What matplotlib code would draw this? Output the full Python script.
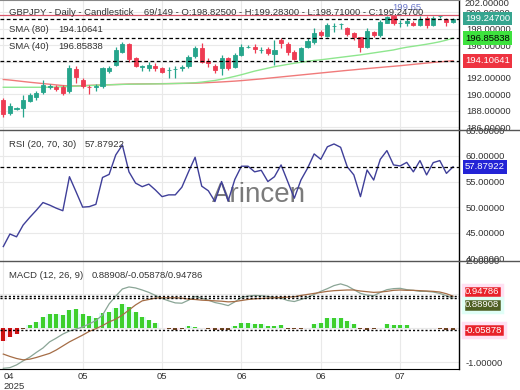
import matplotlib
matplotlib.use("Agg")
import matplotlib.pyplot as plt
import numpy as np
from matplotlib.lines import Line2D

plt.rcParams['font.family'] = ['Liberation Sans', 'DejaVu Sans']

# ---- data ----
opens = [189.3, 187.7, 188.25, 188.4, 189.25, 189.7, 190.33, 190.95, 190.87, 190.87,
         190.45, 193.06, 191.76, 190.9, 190.95, 191.0, 192.9, 193.6, 195.2, 196.2,
         194.4, 193.38, 193.18, 193.5, 193.18, 192.98, 193.04, 193.18, 193.46, 194.68,
         195.6, 194.07, 193.5, 193.18, 194.4, 193.38, 194.8, 195.78, 195.8, 195.38,
         195.5, 194.9, 196.6, 196.2, 195.2, 194.2, 195.8, 196.4, 197.65, 197.1,
         198.32, 198.53, 198.06, 197.45, 196.96, 195.82, 197.65, 197.24, 198.74, 199.56,
         198.65, 198.67, 198.74, 198.46, 199.28, 198.46, 199.5, 199.16, 198.825]
highs = [189.6, 188.95, 188.45, 189.9, 190.2, 190.4, 191.75, 191.3, 191.1, 191.1,
         193.6, 193.5, 192.0, 191.1, 191.3, 193.4, 193.5, 195.8, 196.4, 196.3,
         194.6, 193.6, 193.9, 193.8, 193.4, 193.4, 193.5, 193.6, 194.8, 195.85,
         196.3, 194.4, 193.7, 194.8, 194.6, 195.1, 196.1, 196.0, 196.2, 195.8,
         195.8, 196.6, 196.85, 196.4, 195.4, 195.8, 196.85, 198.06, 197.85, 198.67,
         198.67, 198.74, 198.26, 197.65, 197.04, 198.06, 197.77, 199.07, 199.6, 199.65,
         199.07, 199.28, 198.99, 199.55, 199.6, 199.5, 199.62, 199.28, 199.283]
lows = [187.2, 187.5, 188.1, 187.3, 189.1, 189.3, 190.1, 190.7, 190.4, 189.9,
        190.2, 191.35, 190.8, 190.1, 190.4, 190.8, 192.6, 193.45, 195.0, 193.9,
        193.3, 192.9, 192.9, 192.9, 192.6, 192.0, 192.0, 192.9, 193.2, 194.4,
        193.85, 193.4, 192.6, 192.4, 193.0, 193.2, 194.7, 195.6, 195.0, 195.0,
        194.8, 193.6, 195.6, 194.8, 194.2, 194.0, 195.6, 196.2, 197.0, 197.0,
        197.65, 197.94, 197.12, 196.63, 195.2, 195.6, 197.04, 197.04, 198.67, 198.46,
        198.26, 198.34, 198.34, 198.34, 198.06, 198.34, 199.3, 198.4, 198.71]
closes = [187.6, 188.6, 188.35, 189.3, 189.9, 190.2, 191.15, 191.05, 190.62, 190.13,
          193.18, 192.09, 191.02, 190.85, 191.05, 193.18, 193.26, 195.4, 196.2, 194.3,
          193.46, 193.42, 193.58, 193.18, 192.77, 193.02, 193.08, 193.38, 194.6, 195.6,
          193.99, 193.8, 192.98, 194.4, 193.18, 194.8, 195.8, 195.82, 195.5, 195.42,
          195.0, 195.4, 196.3, 195.2, 194.3, 195.6, 196.5, 197.5, 197.24, 198.46,
          198.36, 198.57, 197.37, 197.04, 195.82, 197.77, 197.24, 198.87, 199.4, 198.67,
          198.69, 198.95, 198.46, 199.16, 198.46, 199.28, 199.56, 198.87, 199.247]

sma80 = [191.82, 191.75, 191.66, 191.57, 191.48, 191.40, 191.32, 191.24, 191.16, 191.08,
         191.03, 191.04, 191.07, 191.10, 191.13, 191.16, 191.18, 191.21, 191.23, 191.26,
         191.27, 191.28, 191.29, 191.30, 191.31, 191.32, 191.33, 191.34, 191.35, 191.37,
         191.40, 191.44, 191.48, 191.52, 191.57, 191.62, 191.68, 191.75, 191.82, 191.89,
         191.97, 192.05, 192.13, 192.21, 192.29, 192.37, 192.45, 192.53, 192.61, 192.69,
         192.77, 192.85, 192.93, 193.00, 193.08, 193.15, 193.22, 193.29, 193.36, 193.43,
         193.50, 193.58, 193.66, 193.74, 193.82, 193.90, 193.97, 194.04, 194.10641]
sma40 = [190.87, 190.87, 190.87, 190.87, 190.87, 190.87, 190.87, 190.88, 190.90, 190.93,
         190.96, 191.00, 191.04, 191.08, 191.11, 191.14, 191.17, 191.19, 191.22, 191.24,
         191.25, 191.26, 191.27, 191.28, 191.29, 191.31, 191.33, 191.35, 191.38, 191.42,
         191.50, 191.60, 191.70, 191.85, 192.02, 192.20, 192.40, 192.62, 192.84, 193.02,
         193.20, 193.38, 193.52, 193.66, 193.80, 193.92, 194.03, 194.14, 194.22, 194.32,
         194.42, 194.52, 194.62, 194.72, 194.82, 194.94, 195.06, 195.18, 195.30, 195.42,
         195.60, 195.75, 195.87, 195.99, 196.12, 196.26, 196.42, 196.62, 196.85838]

rsi = [42.3, 44.75, 44.2, 46.5, 48.0, 49.4, 50.9, 50.4, 49.8, 49.3,
       55.95, 53.0, 50.0, 50.1, 50.55, 55.8, 56.4, 60.2, 62.15, 56.9,
       54.7, 54.0, 54.5, 53.35, 52.05, 52.4, 52.4, 53.9, 56.9, 59.75,
       54.1, 53.2, 51.1, 55.0, 51.2, 55.4, 58.0, 58.0, 56.9, 57.2,
       55.0, 55.95, 58.25, 55.0, 51.75, 55.3, 57.6, 60.4, 59.35, 61.8,
       62.35, 61.7, 57.9, 56.3, 52.05, 57.25, 55.3, 59.35, 61.05, 58.25,
       58.05, 58.75, 56.9, 59.1, 56.3, 58.7, 59.1, 56.6, 57.87922]

macd = [-1.18, -1.16, -1.08, -0.96, -0.85, -0.71, -0.58, -0.40, -0.29, -0.17,
        -0.08, -0.02, 0.04, 0.13, 0.23, 0.39, 0.72, 0.95, 1.16, 1.22,
        1.19, 1.13, 1.06, 0.97, 0.88, 0.81, 0.75, 0.74, 0.83, 0.94,
        0.89, 0.83, 0.76, 0.72, 0.67, 0.78, 0.91, 0.95, 0.97, 0.96,
        0.94, 0.91, 0.89, 0.82, 0.79, 0.85, 0.91, 1.00, 1.09, 1.17,
        1.26, 1.31, 1.25, 1.14, 1.03, 0.98, 0.96, 1.06, 1.14, 1.17,
        1.18, 1.14, 1.12, 1.09, 1.09, 1.07, 1.03, 0.96, 0.88908]
signal = [-0.76, -0.83, -0.89, -0.93, -0.91, -0.86, -0.80, -0.74, -0.64, -0.52,
          -0.40, -0.30, -0.20, -0.09, -0.01, 0.08, 0.19, 0.27, 0.39, 0.54,
          0.69, 0.81, 0.85, 0.89, 0.90, 0.90, 0.90, 0.89, 0.86, 0.85,
          0.83, 0.82, 0.81, 0.80, 0.78, 0.79, 0.82, 0.85, 0.87, 0.88,
          0.89, 0.90, 0.91, 0.92, 0.93, 0.97, 1.00, 1.03, 1.06, 1.09,
          1.11, 1.12, 1.13, 1.13, 1.10, 1.08, 1.06, 1.07, 1.09, 1.12,
          1.13, 1.12, 1.12, 1.11, 1.10, 1.09, 1.07, 1.02, 0.94786]
hist = [-0.38, -0.25, -0.18, -0.03, 0.10, 0.20, 0.34, 0.41, 0.41, 0.39,
        0.54, 0.56, 0.41, 0.36, 0.31, 0.44, 0.47, 0.59, 0.71, 0.64,
        0.47, 0.34, 0.25, 0.15, 0.02, -0.03, -0.04, -0.03, 0.08, 0.03,
        0.02, -0.03, -0.05, -0.04, -0.04, 0.07, 0.15, 0.15, 0.12, 0.12,
        0.07, 0.06, 0.10, -0.03, -0.03, -0.03, 0.02, 0.12, 0.17, 0.29,
        0.31, 0.29, 0.22, 0.12, -0.03, -0.04, -0.03, 0.01, 0.12, 0.10,
        0.09, 0.09, 0.02, 0.02, 0.02, 0.01, -0.03, -0.04, -0.05878]

xtick_pos = [0, 12, 24, 36, 48, 60]
xtick_lab = ['04\n2025', '05', '05', '06', '06', '07']

x = np.arange(len(closes))
o = np.array(opens); c = np.array(closes)
h = np.array(highs); l = np.array(lows)

TEAL = '#26a58c'
RED = '#ee3b52'
GRID = '#e9e9e9'
LAB = '#333333'

fig = plt.figure(figsize=(5.2, 3.9), dpi=100)
W = 459 / 520
ax1 = fig.add_axes([0, 1 - 130.4 / 390, W, 130.4 / 390])
ax2 = fig.add_axes([0, 1 - 260.5 / 390, W, 130.1 / 390], sharex=ax1)
ax3 = fig.add_axes([0, 1 - 369 / 390, W, 108.5 / 390], sharex=ax1)

for ax in (ax1, ax2, ax3):
    for s in ('top', 'left', 'bottom'):
        ax.spines[s].set_visible(False)
    ax.spines['right'].set_color('black')
    ax.spines['right'].set_linewidth(1)
    ax.yaxis.tick_right()
    ax.tick_params(axis='y', length=0, pad=5, labelsize=6.8, labelcolor=LAB)
    ax.tick_params(axis='x', length=0, labelbottom=False)
    for t in xtick_pos:
        ax.axvline(t, color=GRID, lw=0.8, zorder=0)
    ax.yaxis.set_major_formatter(matplotlib.ticker.FormatStrFormatter('%.5f'))
    ax.set_facecolor('white')

ax1.spines['top'].set_visible(True)
ax1.spines['top'].set_color('#888888')
ax3.spines['bottom'].set_visible(True)
ax3.spines['bottom'].set_color('black')

ax1.set_xlim(-0.5, 68.9)

# ---- price panel ----
ax1.set_ylim(185.61, 201.51)
ax1.set_yticks(np.arange(186, 201, 2))
for t in np.arange(186, 201, 2):
    ax1.axhline(t, color=GRID, lw=0.8, zorder=0)

ax1.plot(x, sma80, color='#f07a7a', lw=1.0, zorder=2)
ax1.plot(x, sma40, color='#8ee68e', lw=1.0, zorder=2)

cols = np.where(c >= o, TEAL, RED)
ax1.vlines(x, l, h, colors=cols, lw=0.9, zorder=3)
ax1.bar(x, np.abs(c - o), bottom=np.minimum(o, c), width=0.62, color=cols,
        edgecolor=cols, lw=0.6, zorder=4)

hi_idx = int(np.argmax(h))
ax1.axhline(h[hi_idx], color='#d9556a', lw=0.9, zorder=2)
ax1.text(61, 200.55, '%.2f' % h[hi_idx], color='#6b77c9', fontsize=6.8,
         ha='center', va='center', zorder=6)

for val in (closes[-1], sma40[-1], sma80[-1]):
    ax1.axhline(val, color='black', lw=0.9, ls=(0, (3, 2)), zorder=5)

ax1.text(0.02, 0.905, 'GBPJPY - Daily - Candlestick    69/149 - O:198.82500 - H:199.28300 - '
         'L:198.71000 - C:199.24700', transform=ax1.transAxes, fontsize=6.8,
         color=LAB, va='center', zorder=7)
ax1.text(0.02, 0.77, 'SMA (80)', transform=ax1.transAxes, fontsize=6.8, color=LAB, va='center')
ax1.text(0.127, 0.77, '%.5f' % sma80[-1], transform=ax1.transAxes, fontsize=6.8, color=LAB, va='center')
ax1.text(0.02, 0.642, 'SMA (40)', transform=ax1.transAxes, fontsize=6.8, color=LAB, va='center')
ax1.text(0.127, 0.642, '%.5f' % sma40[-1], transform=ax1.transAxes, fontsize=6.8, color=LAB, va='center')

ax1.text(1.013, 201.1, '202.00000', transform=ax1.get_yaxis_transform(), fontsize=6.8,
         color=LAB, va='center', clip_on=False)

tr1 = ax1.get_yaxis_transform()
ax1.text(1.013, closes[-1], '%.5f' % closes[-1], transform=tr1, fontsize=6.8, color='white',
         va='center', bbox=dict(boxstyle='square,pad=0.25', fc='#36a58f', ec='none'), zorder=10)
ax1.text(1.013, sma40[-1], '%.5f' % sma40[-1], transform=tr1, fontsize=6.8, color='black',
         va='center', bbox=dict(boxstyle='square,pad=0.25', fc='#3ee23e', ec='none'), zorder=10)
ax1.text(1.013, sma80[-1], '%.5f' % sma80[-1], transform=tr1, fontsize=6.8, color='white',
         va='center', bbox=dict(boxstyle='square,pad=0.25', fc='#ee3340', ec='none'), zorder=10)

# ---- RSI panel ----
ax2.set_ylim(39.57, 65.0)
ax2.set_yticks(np.arange(40, 66, 5))
for t in np.arange(45, 65, 5):
    ax2.axhline(t, color=GRID, lw=0.8, zorder=0)
ax2.plot(x, rsi, color='#3f3f99', lw=1.0, zorder=3)
ax2.axhline(rsi[-1], color='black', lw=0.9, ls=(0, (3, 2)), zorder=4)
ax2.text(0.02, 0.895, 'RSI (20, 70, 30)', transform=ax2.transAxes, fontsize=6.8, color=LAB, va='center')
ax2.text(0.184, 0.895, '%.5f' % rsi[-1], transform=ax2.transAxes, fontsize=6.8, color=LAB, va='center')
ax2.text(1.013, rsi[-1], '%.5f' % rsi[-1], transform=ax2.get_yaxis_transform(), fontsize=6.8,
         color='white', va='center', bbox=dict(boxstyle='square,pad=0.25', fc='#2323d6', ec='none'),
         zorder=10)
ax2.text(0.565, 0.5, 'Arincen', transform=ax2.transAxes, fontsize=20, color='#5a5a5a',
         alpha=0.8, ha='center', va='center', zorder=2)

# ---- MACD panel ----
ax3.set_ylim(-1.20, 2.0)
ax3.set_yticks([-1, 0, 1, 2])
for t in (-1, 0, 1):
    ax3.axhline(t, color=GRID, lw=0.8, zorder=0)
hv = np.array(hist)
bg = np.where(hv >= 0, '#dcfbf6', '#ffe3f1')
ax3.bar(x, hv, width=1.0, color=bg, zorder=1)
hcol = np.where(hv >= 0, '#3fcf2c', np.where(hv < -0.1, '#cc1111', '#6b4520'))
ax3.bar(x, hv, width=0.6, color=hcol, zorder=2)
ax3.plot(x, macd, color='#8aa596', lw=0.9, zorder=3)
ax3.plot(x, signal, color='#a56d46', lw=0.9, zorder=3)
for val in (signal[-1], macd[-1], hist[-1]):
    ax3.axhline(val, color='black', lw=1.0, ls=(0, (1.5, 1.5)), zorder=4)
ax3.text(0.02, 0.86, 'MACD (12, 26, 9)', transform=ax3.transAxes, fontsize=6.8, color=LAB, va='center')
ax3.text(0.2, 0.86, '%.5f/%.5f/%.5f' % (macd[-1], hist[-1], signal[-1]),
         transform=ax3.transAxes, fontsize=6.8, color=LAB, va='center')
tr3 = ax3.get_yaxis_transform()
ax3.text(1.013, 1.08, '%.5f' % signal[-1], transform=tr3, fontsize=6.8, color='white', va='center',
         bbox=dict(boxstyle='square,pad=0.25', fc='#e8222a', ec='#ffe0f2', lw=2.5), zorder=10)
ax3.text(1.013, 0.69, '%.5f' % macd[-1], transform=tr3, fontsize=6.8, color='white', va='center',
         bbox=dict(boxstyle='square,pad=0.25', fc='#4f5f22', ec='#e0fff7', lw=2.5), zorder=10)
ax3.text(1.013, hist[-1], '%.5f' % hist[-1], transform=tr3, fontsize=6.8, color='white', va='center',
         bbox=dict(boxstyle='square,pad=0.25', fc='#e8222a', ec='#ffe0f2', lw=2.5), zorder=10)

ax3.set_xticks(xtick_pos)
ax3.set_xticklabels(xtick_lab)
ax3.tick_params(axis='x', labelbottom=True, labelsize=6.8, labelcolor=LAB, pad=2)
ax3.get_xticklabels()[0].set_ha('left')

# panel separators running across the label column
for yy in (130.4, 260.5):
    fig.add_artist(Line2D([0, 1], [1 - yy / 390, 1 - yy / 390], transform=fig.transFigure,
                          color='#555555', lw=1.0))

fig.savefig('out.png', dpi=100)
